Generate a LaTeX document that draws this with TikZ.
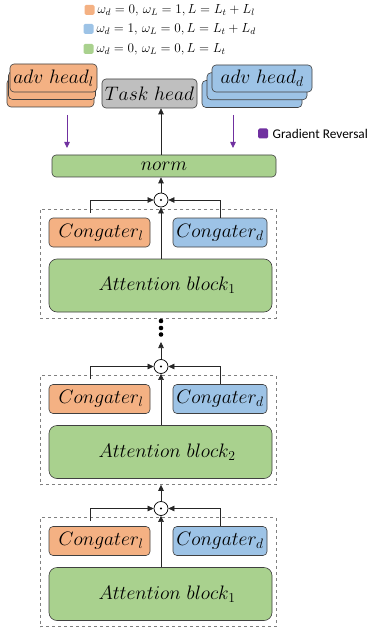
\RequirePackage{fix-cm}
\documentclass[tikz,border=0pt]{standalone}
\usepackage{fontspec}
\newfontfamily\carl{Carlito}
\usetikzlibrary{arrows.meta}
\definecolor{orangef}{HTML}{F4B183}
\definecolor{bluef}{HTML}{9DC3E6}
\definecolor{greenf}{HTML}{A9D18E}
\definecolor{grayf}{HTML}{BFBFBF}
\definecolor{purplef}{HTML}{7030A0}
\definecolor{bordc}{HTML}{404040}
\begin{document}
\begin{tikzpicture}[x=1pt,y=-1pt,
  box/.style={draw=bordc, line width=0.6pt, rounded corners=4pt, inner sep=0pt,
    font=\fontsize{19.5}{21}\selectfont},
  dashbox/.style={draw=gray, dashed, line width=0.5pt, inner sep=0pt},
  arr/.style={-{Triangle[length=6pt,width=5.5pt]}, line width=0.6pt, draw=black!85},
  parr/.style={-{Triangle[length=6pt,width=5.5pt]}, line width=0.8pt, draw=purplef},
  legsq/.style={rounded corners=1.5pt, minimum size=10pt, inner sep=0pt},
  legtx/.style={anchor=west, inner sep=0pt, font=\fontsize{13.2}{15}\selectfont},
  odotn/.style={circle, draw=black, line width=0.7pt, minimum size=14pt, inner sep=0pt}
]
\useasboundingbox (0,0) rectangle (368,628);

% legend
\node[legsq, fill=orangef] (sq1) at (89.5,10) {};
\node[legsq, fill=bluef] (sq2) at (88.5,29) {};
\node[legsq, fill=greenf] (sq3) at (88.5,49) {};
\node[legtx] (lg1) at (97.5,10) {$\omega_d=0,\,\omega_L=1,L=L_t+L_l$};
\node[legtx] (lg2) at (96.5,29) {$\omega_d=1,\,\omega_L=0,L=L_t+L_d$};
\node[legtx] (lg3) at (96.5,49) {$\omega_d=0,\,\omega_L=0,L=L_t$};

% heads
\node[box, fill=orangef, minimum width=87pt, minimum height=28pt] (advl3) at (50.5,93) {};
\node[box, fill=orangef, minimum width=87pt, minimum height=28pt] (advl2) at (52,85.5) {};
\node[box, fill=orangef, minimum width=87pt, minimum height=28pt] (advl) at (53.5,78) {$adv\ head_l$};
\node[box, fill=grayf, minimum width=95pt, minimum height=29pt] (task) at (149.5,93.5) {$Task\ head$};
\node[box, fill=bluef, minimum width=100pt, minimum height=27pt] (advd3) at (252,94) {};
\node[box, fill=bluef, minimum width=100pt, minimum height=27pt] (advd2) at (257,86.25) {};
\node[box, fill=bluef, minimum width=100pt, minimum height=27pt] (advd) at (262,78.5) {$adv\ head_d$};

% gradient reversal legend
\node[legsq, fill=purplef] (sqg) at (263,133.5) {};
\node[anchor=west, inner sep=0pt, font=\carl\fontsize{13.3}{15}\selectfont] (gr) at (272.5,133.5) {Gradient Reversal};

% purple arrows
\coordinate (pl1) at (67,115);
\coordinate (pl2) at (67,148);
\coordinate (pd1) at (233,115);
\coordinate (pd2) at (233,148);
\draw[parr] (pl1) -- (pl2);
\draw[parr] (pd1) -- (pd2);

% norm
\node[box, fill=greenf, minimum width=224pt, minimum height=22pt] (norm) at (164,166) {$norm$};

% blocks
\foreach \i/\dy/\s in {1/0/1, 2/166.5/2, 3/308.5/1}{
  \node[dashbox, minimum width=236pt, minimum height=109pt] (db\i) at (158,263.5+\dy) {};
  \node[box, fill=orangef, minimum width=101pt, minimum height=29pt] (cl\i) at (99.5,232.5+\dy) {\hspace{3pt}$Congater_l$};
  \node[box, fill=bluef, minimum width=94pt, minimum height=29pt] (cd\i) at (220,232.5+\dy) {$Congater_d$};
  \node[box, rounded corners=8pt, fill=greenf, minimum width=223pt, minimum height=53pt] (at\i) at (160.5,285.5+\dy) {\hspace{13pt}$Attention\ block_{\s}$};
  \node[odotn] (od\i) at (161,200+\dy) {};
  \fill (od\i.center) circle (1.1pt);
  \draw[arr, shorten <=5pt] ([xshift=-9.5pt]cl\i.north) |- (od\i.west);
  \draw[arr] (cd\i.north) |- (od\i.east);
  \draw[arr] (at\i.north -| od\i) -- (od\i.south);
}

% vertical connectors between stages
\draw[arr] (od1.north) -- (norm.south -| od1);
\draw[arr] (norm.north -| od1) -- (task.south -| od1);
\draw[arr] (od3.north) -- (db2.south -| od3);
\coordinate (dtip) at (161,342);
\draw[arr] (od2.north) -- (dtip);
\fill (161,321) circle (2.3pt);
\fill (161,328) circle (2.3pt);
\fill (161,334.5) circle (2.3pt);
\end{tikzpicture}
\end{document}
